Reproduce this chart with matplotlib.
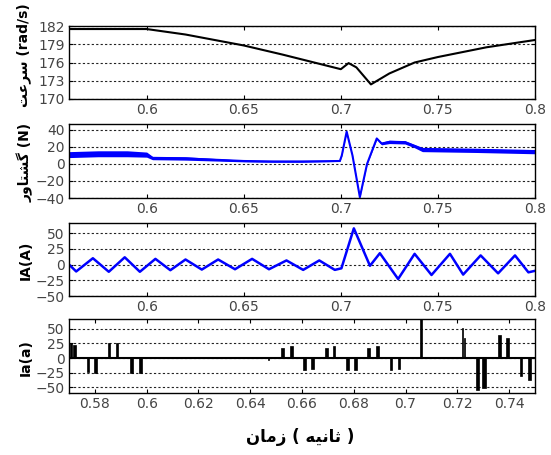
import numpy as np
import matplotlib
matplotlib.use('Agg')
import matplotlib.pyplot as plt

plt.rcParams['font.family'] = ['Liberation Sans Narrow', 'DejaVu Sans']

# speed (rad/s)
speed_t = [0.56, 0.6, 0.62, 0.65, 0.67, 0.69, 0.7, 0.704, 0.708, 0.7155, 0.725, 0.738, 0.75, 0.775, 0.8]
speed_v = [181.5, 181.5, 180.6, 178.8, 177.3, 175.7, 174.9, 175.9, 175.2, 172.4, 174.2, 176.0, 176.9, 178.5, 179.7]

# torque (N): mean value and ripple half-width
torque_t = [0.56, 0.575, 0.59, 0.6, 0.603, 0.62, 0.635, 0.65, 0.665, 0.68, 0.6995, 0.7005, 0.703,
            0.706, 0.7098, 0.7135, 0.7185, 0.721, 0.725, 0.733, 0.738, 0.742, 0.77, 0.8]
torque_v = [11, 12, 12, 11, 7, 6.5, 5, 3.5, 3, 3, 3.5, 10, 38, 10, -39, 0, 30, 24, 26, 25.5, 21, 17, 16, 14.5]
torque_rip = [3.5, 3.5, 3.5, 3, 2, 2, 1.5, 1, 1, 1, 0.5, 0.5, 0.5, 0.5, 0.5, 0.5, 1, 1.5, 2, 2, 2, 2.5, 2.5, 2.5]

# IA(A): peaks and troughs
ia_t = [0.56, 0.5637, 0.5723, 0.5805, 0.5887, 0.5965, 0.6045, 0.6122, 0.62, 0.6284, 0.6368, 0.6455,
        0.6543, 0.663, 0.672, 0.6806, 0.6889, 0.6969, 0.7003, 0.7067, 0.715, 0.7201, 0.7295, 0.738,
        0.7467, 0.7562, 0.763, 0.772, 0.781, 0.7897, 0.7966, 0.8]
ia_v = [0, -11, 10, -11.5, 11.5, -11.5, 9, -9, 8, -8, 8, -7.5, 9, -7.5, 6.5, -8.5, 6.5, -8.5, -6, 57.5,
        -2, 18, -23, 17, -16.6, 17, -16, 14.5, -14, 14.5, -12.4, -10]

# Ia(a): pulses (start, width, height)
pulse_start = [0.5703, 0.5717, 0.5768, 0.5797, 0.5851, 0.5881, 0.5936, 0.5970, 0.647,
               0.6520, 0.6552, 0.6604, 0.6635, 0.6690, 0.6718, 0.6771, 0.6802, 0.6852, 0.6885,
               0.6938, 0.6969, 0.7054, 0.7217, 0.7226, 0.7273, 0.7297, 0.7357, 0.7387, 0.7441, 0.7472]
pulse_width = [0.0007, 0.0009, 0.0009, 0.0010, 0.0009, 0.0010, 0.0010, 0.0011, 0.0003,
               0.0010, 0.0012, 0.0010, 0.0011, 0.0009, 0.0011, 0.0010, 0.0011, 0.0011, 0.0012,
               0.0010, 0.0011, 0.0010, 0.0005, 0.0005, 0.0011, 0.0012, 0.0010, 0.0012, 0.0010, 0.0011]
pulse_h = [25, 22, -24, -25, 25, 25, -25, -25, -3,
           18, 20, -20, -18, 18, 20, -20, -20, 18, 20,
           -20, -18, 67, 52, 35, -55, -52, 40, 35, -30, -37]

speed_label = '\uFE96\uFECB\uFEAE\uFEB3 (rad/s)'
torque_label = '\uFEAD\uFEED\uFE8E\uFE98\uFEB8\uFB94 (N)'
time_label = '\uFEE5\uFE8E\uFEE3\uFEAF ( \uFEEA\uFEF4\uFEE7\uFE8E\uFE9B )'

W, H = 551, 455
fig = plt.figure(figsize=(W / 100, H / 100), dpi=100)

def box(top, bottom):
    return [69 / W, 1 - bottom / H, (535 - 69) / W, (bottom - top) / H]

def style(ax, yticks, xticks):
    ax.set_yticks(yticks)
    ax.set_xticks(xticks)
    ax.tick_params(direction='in', top=True, right=True, length=3, labelsize=10, colors='black',
                   labelcolor='#444444', pad=3)
    for y in yticks:
        ax.axhline(y, color='#222222', lw=0.8, ls=(0, (2, 2)), zorder=0)
    for s in ax.spines.values():
        s.set_linewidth(1.0)

ax1 = fig.add_axes(box(26, 99))
ax1.plot(speed_t, speed_v, color='black', lw=1.5)
ax1.set_xlim(0.56, 0.8)
ax1.set_ylim(170, 182)
style(ax1, [170, 173, 176, 179, 182], [0.6, 0.65, 0.7, 0.75, 0.8])
ax1.set_xticklabels(['0.6', '0.65', '0.7', '0.75', '0.8'])

ax2 = fig.add_axes(box(124, 198))
tv = np.array(torque_v)
tr = np.array(torque_rip)
ax2.fill_between(torque_t, tv - tr, tv + tr, color='#0000ff', lw=0)
ax2.plot(torque_t, torque_v, color='#0000ff', lw=1.5)
ax2.set_xlim(0.56, 0.8)
ax2.set_ylim(-40, 47)
style(ax2, [-40, -20, 0, 20, 40], [0.6, 0.65, 0.7, 0.75, 0.8])
ax2.set_xticklabels(['0.6', '0.65', '0.7', '0.75', '0.8'])

ax3 = fig.add_axes(box(223, 296))
ax3.plot(ia_t, ia_v, color='#0000ff', lw=1.8)
ax3.set_xlim(0.56, 0.8)
ax3.set_ylim(-50, 66)
style(ax3, [-50, -25, 0, 25, 50], [0.6, 0.65, 0.7, 0.75, 0.8])
ax3.set_xticklabels(['0.6', '0.65', '0.7', '0.75', '0.8'])

ax4 = fig.add_axes(box(319, 393))
ax4.bar(pulse_start, pulse_h, width=pulse_width, align='edge', color='black', edgecolor='black', lw=0.5)
ax4.axhline(0, color='black', lw=1.5)
ax4.set_xlim(0.57, 0.75)
ax4.set_ylim(-60, 67)
xt4 = [0.58, 0.6, 0.62, 0.64, 0.66, 0.68, 0.7, 0.72, 0.74]
style(ax4, [-50, -25, 0, 25, 50], xt4)
ax4.set_xticklabels(['0.58', '0.6', '0.62', '0.64', '0.66', '0.68', '0.7', '0.72', '0.74'])

fig.text(24 / W, 1 - 55 / H, speed_label, rotation=90, ha='center', va='center', fontsize=10,
         fontweight='bold', family=['DejaVu Sans'])
fig.text(25 / W, 1 - 162 / H, torque_label, rotation=90, ha='center', va='center', fontsize=10,
         fontweight='bold', family=['DejaVu Sans'])
fig.text(26 / W, 1 - 260 / H, 'IA(A)', rotation=90, ha='center', va='center', fontsize=10,
         fontweight='bold', family=['DejaVu Sans'])
fig.text(26 / W, 1 - 358 / H, 'Ia(a)', rotation=90, ha='center', va='center', fontsize=10,
         fontweight='bold', family=['DejaVu Sans'])
fig.text(300 / W, 1 - 437 / H, time_label, ha='center', va='center', fontsize=12,
         fontweight='bold', family=['DejaVu Sans'])

fig.savefig('out.png', dpi=100)
